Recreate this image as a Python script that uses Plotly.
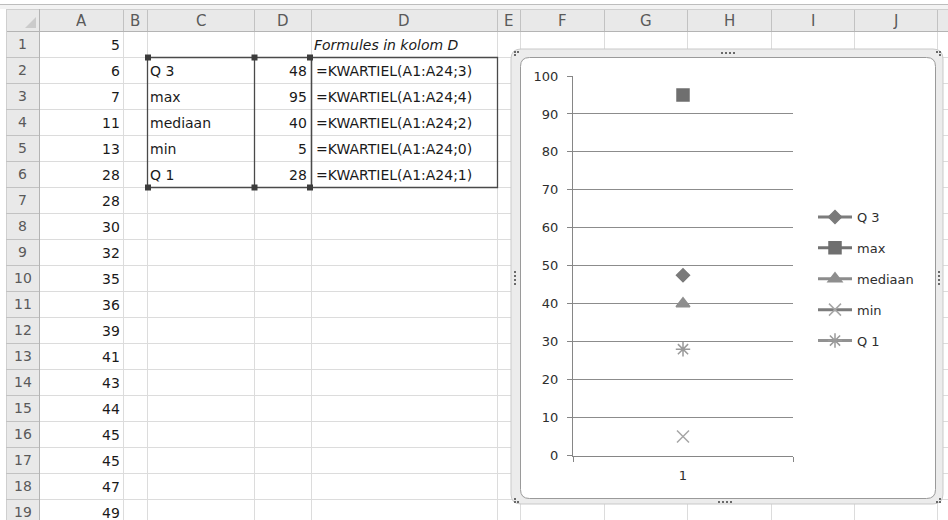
import plotly.graph_objects as go

W, H = 948, 520

# ---- worksheet contents -------------------------------------------------
col_a_values = [5, 6, 7, 11, 13, 28, 28, 30, 32, 35, 36, 39, 41, 43, 44, 45, 45, 47, 49]
stat_names = ["Q 3", "max", "mediaan", "min", "Q 1"]
stat_values = [47.5, 95, 40, 5, 28]
stat_formulas = [
    "=KWARTIEL(A1:A24;3)",
    "=KWARTIEL(A1:A24;4)",
    "=KWARTIEL(A1:A24;2)",
    "=KWARTIEL(A1:A24;0)",
    "=KWARTIEL(A1:A24;1)",
]
formula_note = "Formules in kolom D"
column_letters = ["A", "B", "C", "D", "D", "E", "F", "G", "H", "I", "J"]
category_labels = ["1"]
y_ticks = [0, 10, 20, 30, 40, 50, 60, 70, 80, 90, 100]

# ---- styling -------------------------------------------------------------
FONT = "DejaVu Sans"
col_edges = [39, 123, 147, 254, 311, 497, 520, 604, 687, 771, 854, 937, 1020]
HDR_TOP, HDR_BOT, ROW_H = 9, 31, 26
GRID = "#dcdcdc"
HDR_BG = "#e9e9e9"
HDR_LINE = "#c2c2c2"
TXT = "#1a1a1a"

marker_styles = {
    "Q 3": dict(symbol="diamond", size=10, color="#7a7a7a"),
    "max": dict(symbol="square", size=12, color="#6f6f6f"),
    "mediaan": dict(symbol="triangle-up", size=12, color="#8e8e8e"),
    "min": dict(symbol="x-thin-open", size=12, color="#a6a6a6"),
    "Q 1": dict(symbol="asterisk-open", size=12, color="#9a9a9a"),
}
legend_line_colors = {"Q 3": "#7c7c7c", "max": "#727272", "mediaan": "#8c8c8c",
                      "min": "#7c7c7c", "Q 1": "#929292"}


def px(x):
    return x / W


def py(y):
    return 1 - y / H


shapes = []
annotations = []


def line(x0, y0, x1, y1, color, width=1):
    shapes.append(dict(type="line", xref="paper", yref="paper",
                       x0=px(x0), y0=py(y0), x1=px(x1), y1=py(y1),
                       line=dict(color=color, width=width), layer="below"))


def rect(x0, y0, x1, y1, fill, color=None, width=0):
    shapes.append(dict(type="rect", xref="paper", yref="paper",
                       x0=px(x0), y0=py(y0), x1=px(x1), y1=py(y1),
                       fillcolor=fill, line=dict(color=color or fill, width=width),
                       layer="below"))


def rounded(x0, y0, x1, y1, r, fill, color, width=1):
    pts = [
        f"M{px(x0 + r)},{py(y0)}", f"L{px(x1 - r)},{py(y0)}",
        f"Q{px(x1)},{py(y0)} {px(x1)},{py(y0 + r)}", f"L{px(x1)},{py(y1 - r)}",
        f"Q{px(x1)},{py(y1)} {px(x1 - r)},{py(y1)}", f"L{px(x0 + r)},{py(y1)}",
        f"Q{px(x0)},{py(y1)} {px(x0)},{py(y1 - r)}", f"L{px(x0)},{py(y0 + r)}",
        f"Q{px(x0)},{py(y0)} {px(x0 + r)},{py(y0)}", "Z",
    ]
    shapes.append(dict(type="path", xref="paper", yref="paper", path=" ".join(pts),
                       fillcolor=fill, line=dict(color=color, width=width), layer="below"))


def text(x, y, s, anchor="left", size=14, color=TXT, italic=False):
    annotations.append(dict(xref="paper", yref="paper", x=px(x), y=py(y), text=s,
                            xanchor=anchor, yanchor="middle", showarrow=False,
                            height=16, borderpad=0,
                            font=dict(family=FONT, size=size, color=color,
                                      style="italic" if italic else "normal")))


def row_mid(r):
    return HDR_BOT + ROW_H * (r - 1) + 14


n_rows = len(col_a_values)

# window strip above the headers
line(0, 4.5, W, 4.5, "#bdbdbd")
rect(0, 5, W, HDR_TOP, "#f3f3f3")

# cell gridlines
for xe in col_edges[1:]:
    line(xe + 0.5, HDR_BOT, xe + 0.5, H, GRID)
for r in range(1, n_rows + 1):
    yy = HDR_BOT + ROW_H * r + 0.5
    line(39, yy, W, yy, GRID)

# column header band
rect(6, HDR_TOP, W, HDR_BOT, HDR_BG)
for xe in col_edges:
    line(xe + 0.5, HDR_TOP, xe + 0.5, HDR_BOT, HDR_LINE)
line(6, HDR_BOT + 0.5, W, HDR_BOT + 0.5, "#b4b4b4")
line(6, HDR_TOP + 0.5, W, HDR_TOP + 0.5, "#cfcfcf")
# select-all triangle
shapes.append(dict(type="path", xref="paper", yref="paper", layer="below",
                   path=f"M{px(36)},{py(17)} L{px(36)},{py(28)} L{px(25)},{py(28)} Z",
                   fillcolor="#cbcbcb", line=dict(width=0)))

# row header band
rect(6, HDR_BOT + 1, 39, H, HDR_BG)
line(39.5, HDR_TOP, 39.5, H, "#b4b4b4")
line(6.5, HDR_TOP, 6.5, H, "#cfcfcf")
for r in range(1, n_rows + 1):
    yy = HDR_BOT + ROW_H * r + 0.5
    line(6, yy, 39, yy, HDR_LINE)

for i, letter in enumerate(column_letters):
    text((col_edges[i] + col_edges[i + 1]) / 2, 21, letter, anchor="center",
         size=15, color="#5a5a5a")
for r in range(1, n_rows + 1):
    text(22.5, row_mid(r) - 1, str(r), anchor="center", size=14, color="#5a5a5a")

# column A values
for r, v in enumerate(col_a_values, start=1):
    text(121, row_mid(r), str(v), anchor="right")

# statistic labels, values and formulas
text(313, row_mid(1), formula_note, italic=True)
for i, (name, val, formula) in enumerate(zip(stat_names, stat_values, stat_formulas)):
    r = i + 2
    text(149, row_mid(r), name)
    text(308, row_mid(r), f"{val:.0f}", anchor="right")
    text(315, row_mid(r), formula)

# highlighted source range
BOX = "#4a4a4a"
top_y, bot_y = HDR_BOT + ROW_H + 0.5, HDR_BOT + ROW_H * 6 + 0.5
for x0, x1 in [(147.5, 311.5), (311.5, 497.5)]:
    shapes.append(dict(type="rect", xref="paper", yref="paper", layer="below",
                       x0=px(x0), y0=py(top_y), x1=px(x1), y1=py(bot_y),
                       line=dict(color=BOX, width=1.3)))
line(254.5, top_y, 254.5, bot_y, BOX, 1.3)
for hx in (148, 254.5, 310):
    for hy in (top_y, bot_y):
        rect(hx - 3, hy - 3, hx + 3, hy + 3, "#3c3c3c")

# chart object frame
rounded(511, 49, 943, 504, 10, "#ececec", "#c9c9c9", 1)
rounded(520.5, 57.5, 935.5, 498.5, 9, "#ffffff", "#9a9a9a", 1)
dot = "#6a6a6a"
handle_dots = [
    (515, 52), (518, 52), (515, 55),
    (937, 52), (940, 52), (940, 55),
    (515, 499), (515, 502), (518, 502),
    (940, 499), (937, 502), (940, 502),
    (722, 53), (726, 53), (730, 53), (734, 53),
    (719, 502), (723, 502), (727, 502), (731, 502),
    (515, 272), (515, 276), (515, 280), (515, 284),
    (939, 272), (939, 276), (939, 280), (939, 284),
]
for dx, dy in handle_dots:
    rect(dx - 1, dy - 1, dx + 1, dy + 1, dot)

# ---- chart ---------------------------------------------------------------
fig = go.Figure()
for name, val in zip(stat_names, stat_values):
    st = marker_styles[name]
    fig.add_trace(go.Scatter(
        x=category_labels, y=[val], name=name, mode="lines+markers",
        legendgroup=name,
        line=dict(color=legend_line_colors[name], width=3),
        marker=dict(symbol=st["symbol"], size=st["size"], color=st["color"],
                    line=dict(color=st["color"], width=1.5)),
        hoverinfo="skip",
    ))

AX = "#868686"
fig.update_layout(
    width=W, height=H,
    margin=dict(l=0, r=0, t=0, b=0, autoexpand=False),
    paper_bgcolor="#ffffff",
    plot_bgcolor="rgba(0,0,0,0)",
    shapes=shapes,
    annotations=annotations,
    font=dict(family=FONT, size=13, color="#333333"),
    xaxis=dict(
        domain=[px(573), px(793)], type="category", range=[-0.5, 0.5],
        tickson="boundaries", ticks="outside", ticklen=5, tickcolor=AX,
        showline=True, linecolor=AX, linewidth=1, showgrid=False, zeroline=False,
        tickfont=dict(family=FONT, size=13, color="#2e2e2e"),
        ticklabelstandoff=8, fixedrange=True, automargin=False,
    ),
    yaxis=dict(
        domain=[py(455.5), py(76)], range=[0, 100], tickvals=y_ticks,
        ticks="outside", ticklen=5, tickcolor=AX,
        showline=True, linecolor=AX, linewidth=1,
        showgrid=True, gridcolor="#8c8c8c", gridwidth=1, zeroline=False,
        tickfont=dict(family=FONT, size=13, color="#2e2e2e"),
        ticklabelstandoff=6, fixedrange=True, automargin=False,
    ),
    showlegend=True,
    legend=dict(
        x=px(813), y=py(202), xanchor="left", yanchor="top",
        bgcolor="rgba(0,0,0,0)", tracegroupgap=11, itemwidth=34,
        font=dict(family=FONT, size=13, color="#2e2e2e"),
    ),
)

fig.write_html(
    "out.html",
    config=dict(displayModeBar=False, staticPlot=True),
    post_script="document.body.style.margin='0';document.documentElement.style.overflow='hidden';",
)
